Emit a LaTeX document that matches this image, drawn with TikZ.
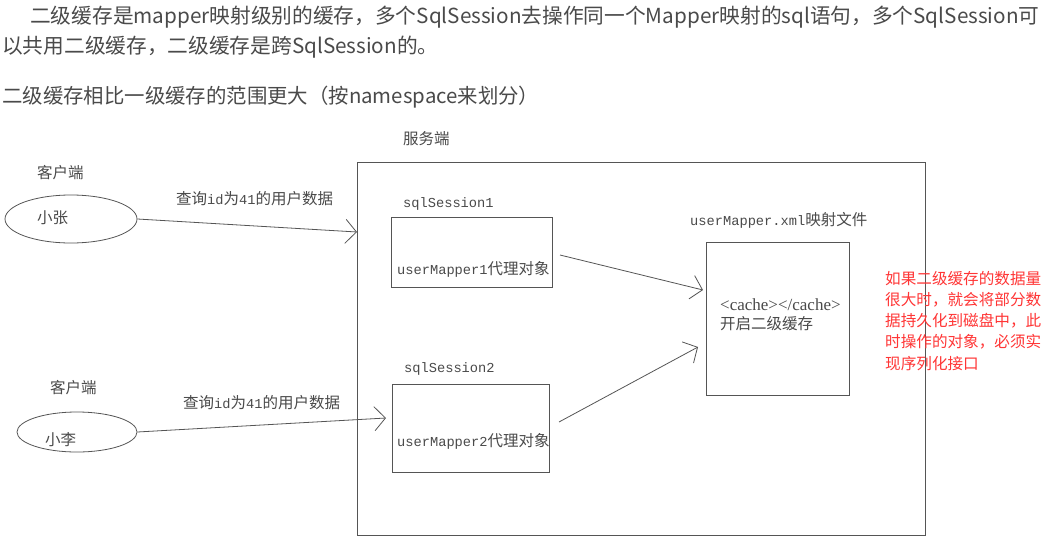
\documentclass[tikz,border=0pt]{standalone}
\usepackage{fontspec}
\setmainfont{Noto Sans CJK SC}
\newfontfamily\cjk{Noto Sans CJK SC}
\newfontfamily\mono{Liberation Mono}
\newfontfamily\serifL{Liberation Serif}
\usetikzlibrary{arrows.meta,shapes.geometric}
\definecolor{toptext}{HTML}{4A4A4A}
\definecolor{dtext}{HTML}{4A4A4A}
\definecolor{dline}{HTML}{555555}
\definecolor{redtext}{HTML}{FF3535}
\tikzset{
  top/.style={anchor=west,inner sep=0pt,text=toptext,font=\cjk\fontsize{20.7}{24}\selectfont},
  lbl/.style={anchor=west,inner sep=0pt,text=dtext,font=\cjk\fontsize{15.5}{18}\selectfont},
  boxx/.style={draw=dline,line width=0.9pt,anchor=north west,inner sep=0pt},
  ell/.style={draw=dline,line width=0.8pt,ellipse,inner sep=0pt},
  arr/.style={draw=dline,line width=0.8pt,-{Straight Barb[length=11pt,width=24pt,line width=0.8pt]}},
}
\newcommand{\mo}[1]{{\mono\fontsize{13.7}{16}\selectfont #1}}
\begin{document}
\begin{tikzpicture}[x=1pt,y=-1pt]
\useasboundingbox (0,0) rectangle (1059,546);
\fill[white] (0,0) rectangle (1059,546);
% top text
\node[top] (t1) at (30,17) {二级缓存是mapper映射级别的缓存，多个SqlSession去操作同一个Mapper映射的sql语句，多个SqlSession可};
\node[top] (t2) at (2,47) {以共用二级缓存，二级缓存是跨SqlSession的。};
\node[top,font=\cjk\fontsize{20.4}{24}\selectfont] (t3) at (2,97) {二级缓存相比一级缓存的范围更大（按namespace来划分）};
% server
\node[lbl] (serverlbl) at (403,139) {服务端};
\node[boxx,minimum width=568pt,minimum height=373pt] (server) at (357,162) {};
% clients
\node[lbl] (c1lbl) at (37,173) {客户端};
\node[ell,minimum width=132pt,minimum height=48pt] (zhang) at (71,219) {};
\node[lbl] (zhangt) at (37,218) {小张};
\node[lbl] (c2lbl) at (50,388) {客户端};
\node[ell,minimum width=120pt,minimum height=40pt] (li) at (77,432) {};
\node[lbl] (lit) at (45,440) {小李};
\node[lbl] (q1) at (176,199) {查询\mo{id}为\mo{41}的用户数据};
\node[lbl] (q2) at (183,403) {查询\mo{id}为\mo{41}的用户数据};
% sessions
\node[lbl] (s1lbl) at (403,204) {\mo{sqlSession1}};
\node[boxx,minimum width=161pt,minimum height=70pt] (sess1) at (391,217) {};
\node[lbl] (m1) at (397,269) {\mo{userMapper1}代理对象};
\node[lbl] (s2lbl) at (404,369) {\mo{sqlSession2}};
\node[boxx,minimum width=157pt,minimum height=88pt] (sess2) at (392,384) {};
\node[lbl] (m2) at (397,441) {\mo{userMapper2}代理对象};
% mapper file
\node[lbl] (xmllbl) at (690,220) {\mo{userMapper.xml}映射文件};
\node[boxx,minimum width=143pt,minimum height=153pt] (cache) at (706,242) {};
\node[lbl,font=\serifL\fontsize{17}{18}\selectfont] (cachetag) at (720,305) {<cache></cache>};
\node[lbl] (cachetxt) at (720,324) {开启二级缓存};
% note
\node[anchor=north west,inner sep=0pt,text=redtext,font=\cjk\fontsize{15.6}{21.2}\selectfont,align=left] (note) at (885,271) {如果二级缓存的数据量\\很大时，就会将部分数\\据持久化到磁盘中，此\\时操作的对象，必须实\\现序列化接口};
% arrows
\coordinate (in1) at (357,232);
\coordinate (in2) at (386,418);
\coordinate (o1) at (560,255);
\coordinate (o2) at (559,422);
\coordinate (ct1) at (703,290);
\coordinate (ct2) at (698,347);
\draw[arr] (zhang.east) -- (in1);
\draw[arr] (li.east) -- (in2);
\draw[arr] (o1) -- (ct1);
\draw[arr] (o2) -- (ct2);
\end{tikzpicture}
\end{document}
